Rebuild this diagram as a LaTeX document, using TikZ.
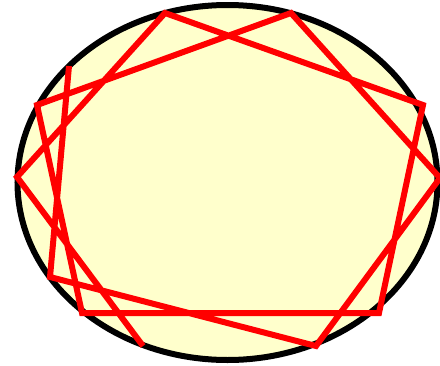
\documentclass[tikz,border=0pt]{standalone}
\definecolor{paleyellow}{HTML}{FFFFCC}
\tikzset{
  rim/.style={draw=black, line width=6pt, fill=paleyellow},
  starline/.style={draw=red, line width=6pt, line join=miter}
}
\begin{document}
\begin{tikzpicture}[x=1pt,y=-1pt]
\useasboundingbox (0,0) rectangle (440,365);
\draw[rim] (227.5,182.5) ellipse [x radius=210, y radius=177.5];
\coordinate (v1) at (165,13);
\coordinate (v2) at (291,13);
\coordinate (v3) at (423,105);
\coordinate (v4) at (440,178);
\coordinate (v5) at (379,313);
\coordinate (v6) at (316,346);
\coordinate (v7) at (143,346);
\coordinate (v8) at (82,313);
\coordinate (v9) at (50,277);
\coordinate (v10) at (17,177);
\coordinate (v11) at (37,105);
\coordinate (v12) at (69,66);
\draw[starline] (v7) -- (v10) -- (v1) -- (v3) -- (v5) -- (v8) -- (v11) -- (v2) -- (v4) -- (v6) -- (v9) -- (v12);
\end{tikzpicture}
\end{document}
